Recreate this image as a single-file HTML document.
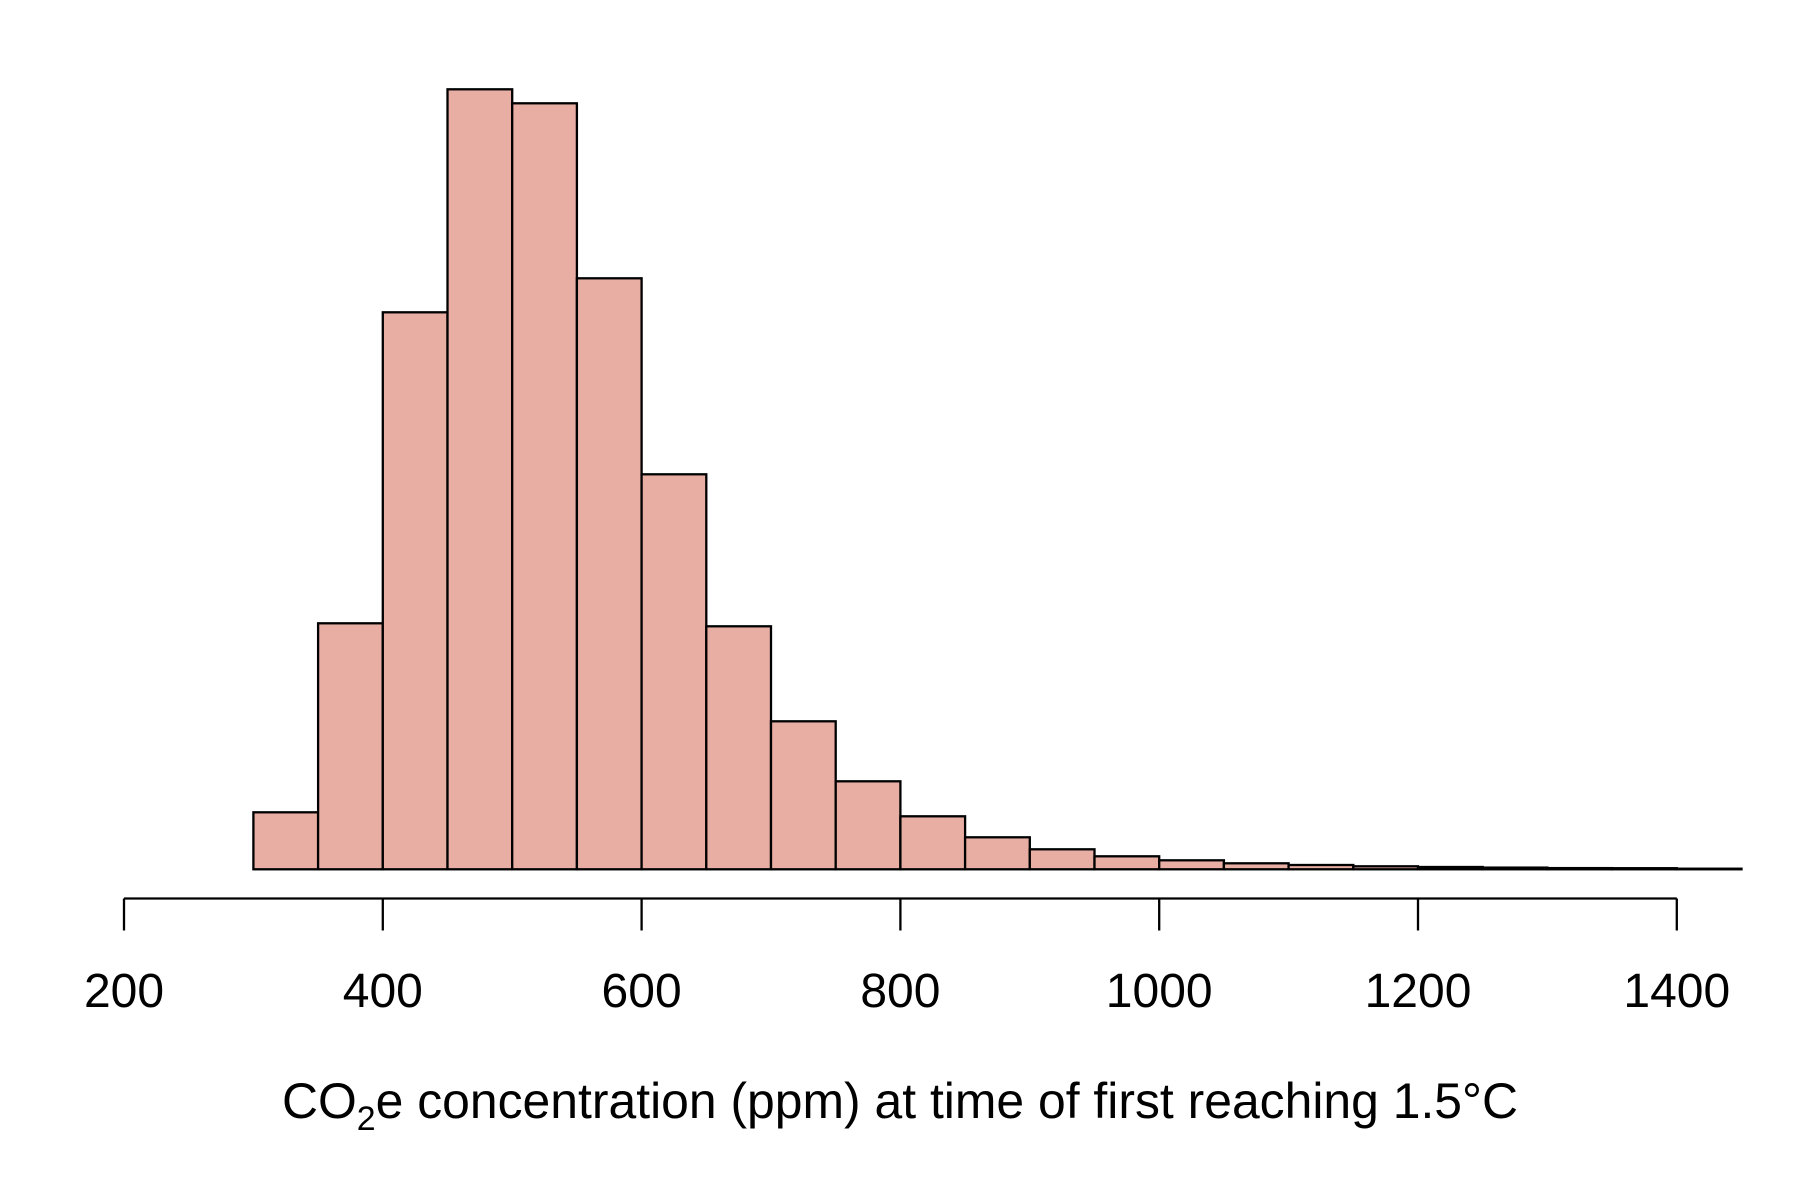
<!DOCTYPE html>
<html>
<head>
<meta charset="utf-8">
<style>
  html,body{margin:0;padding:0;background:#fff;}
  svg{display:block;}
  text{font-family:"Liberation Sans",Arial,sans-serif;fill:#000;}
</style>
</head>
<body>
<svg id="chart" width="1800" height="1200" viewBox="0 0 1800 1200" xmlns="http://www.w3.org/2000/svg">
  <g id="bars"></g>
  <g id="axis"></g>
  <text id="xtitle" x="282" y="1118" font-size="50" textLength="1236" lengthAdjust="spacingAndGlyphs">CO<tspan font-size="34" dy="12">2</tspan><tspan dy="-12">e concentration (ppm) at time of first reaching 1.5°C</tspan></text>
</svg>
<script>
const binStarts = [300,350,400,450,500,550,600,650,700,750,800,850,900,950,1000,1050,1100,1150,1200,1250,1300,1350,1400];
const binCounts = [57,246,557,780,766,591,395,243,148,88,53,32,20,13,9,6,4.3,3,2.3,1.7,1.2,1.1,0.6];
const binWidth = 50;
const tickValues = [200,400,600,800,1000,1200,1400];
const tickLabels = ["200","400","600","800","1000","1200","1400"];

const NS = "http://www.w3.org/2000/svg";
function xScale(v){ return 124 + (v - 200) * 1.294; }
function yScale(c){ return 869.3 - c; }

const barsG = document.getElementById('bars');
binStarts.forEach((s, i) => {
  const r = document.createElementNS(NS, 'rect');
  const x0 = xScale(s), x1 = xScale(s + binWidth);
  const y = yScale(binCounts[i]);
  r.setAttribute('x', x0);
  r.setAttribute('y', y);
  r.setAttribute('width', x1 - x0);
  r.setAttribute('height', yScale(0) - y);
  r.setAttribute('fill', '#e8aea3');
  r.setAttribute('stroke', '#000');
  r.setAttribute('stroke-width', '2.3');
  
  
  barsG.appendChild(r);
});

const axisG = document.getElementById('axis');
const axisY = 898.5, tickLen = 32;
const line = document.createElementNS(NS, 'line');
line.setAttribute('x1', xScale(tickValues[0]));
line.setAttribute('x2', xScale(tickValues[tickValues.length - 1]));
line.setAttribute('y1', axisY);
line.setAttribute('y2', axisY);
line.setAttribute('stroke', '#000');
line.setAttribute('stroke-width', '2.3');


axisG.appendChild(line);

tickValues.forEach((v, i) => {
  const t = document.createElementNS(NS, 'line');
  t.setAttribute('x1', xScale(v));
  t.setAttribute('x2', xScale(v));
  t.setAttribute('y1', axisY);
  t.setAttribute('y2', axisY + tickLen);
  t.setAttribute('stroke', '#000');
  t.setAttribute('stroke-width', '2.3');
  
  
  axisG.appendChild(t);

  const lb = document.createElementNS(NS, 'text');
  lb.setAttribute('x', xScale(v));
  lb.setAttribute('y', 1007);
  lb.setAttribute('font-size', '48');
  lb.setAttribute('text-anchor', 'middle');
  lb.textContent = tickLabels[i];
  
  
  axisG.appendChild(lb);
});
</script>
</body>
</html>
